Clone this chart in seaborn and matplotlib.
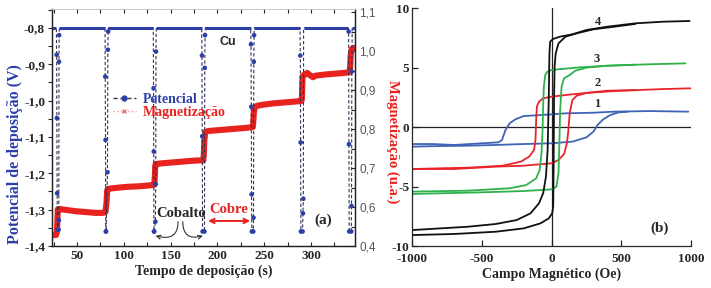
import numpy as np
import pandas as pd
import matplotlib
matplotlib.use('Agg')
import matplotlib.pyplot as plt
import seaborn as sns
from matplotlib.lines import Line2D
from matplotlib.ticker import MultipleLocator, FixedLocator, FuncFormatter

# ---- dados (a): potencial e magnetizacao vs tempo ----
pot_t = [23.0, 28.0, 28.3, 28.5, 28.8, 29.2, 30.4, 30.6, 30.8, 31.0, 31.2,
         80.0, 80.2, 80.5, 80.8, 81.1, 82.6, 83.0, 83.3, 83.6,
         131.5, 131.8, 132.0, 132.2, 132.5, 133.8, 134.1, 134.4, 134.7,
         183.2, 183.5, 183.8, 184.2, 186.2, 186.5, 186.8, 187.1,
         235.6, 235.9, 236.2, 236.5, 236.8, 238.3, 238.6, 238.9, 239.2, 239.5,
         288.3, 288.6, 288.9, 289.2, 291.0, 291.4, 291.8, 292.1,
         339.9, 340.2, 340.5, 340.8, 343.0, 343.3, 343.6, 344.0, 347.0]
pot_v = [-0.80, -0.80, -0.874, -1.048, -1.255, -1.355, -1.355, -1.329, -0.893, -0.82, -0.80,
         -0.80, -0.934, -1.108, -1.36, -1.36, -1.197, -0.86, -0.81, -0.80,
         -0.80, -0.966, -1.14, -1.36, -1.36, -1.333, -1.23, -0.865, -0.80,
         -0.80, -0.876, -1.098, -1.36, -1.36, -0.91, -0.82, -0.80,
         -0.80, -0.845, -1.017, -1.258, -1.36, -1.36, -1.322, -0.893, -0.82, -0.80,
         -0.80, -0.876, -1.115, -1.36, -1.36, -1.31, -1.27, -0.80,
         -0.80, -0.81, -1.12, -1.36, -1.36, -1.29, -0.92, -0.80, -0.80]

mag_t = [24.5, 27.5, 28.5, 29.0, 29.5,
         31, 40, 50, 60, 70, 78, 80.5,
         81.5, 82.2, 82.6, 84, 95, 105, 115, 125, 132.5,
         133.2, 133.6, 134, 136, 145, 155, 165, 175, 185,
         185.6, 186, 187, 190, 200, 210, 220, 230, 237.8,
         238.4, 239, 240, 243, 250, 260, 270, 280, 289.5,
         290.2, 290.6, 291, 293, 296, 299, 302, 305, 315, 325, 335, 341.2,
         341.8, 342.4, 343.5, 345, 347]
mag_v = [0.528, 0.528, 0.535, 0.56, 0.594,
         0.595, 0.592, 0.589, 0.587, 0.585, 0.585, 0.588,
         0.61, 0.64, 0.645, 0.647, 0.650, 0.652, 0.653, 0.655, 0.657,
         0.68, 0.705, 0.71, 0.711, 0.713, 0.715, 0.717, 0.719, 0.72,
         0.74, 0.77, 0.792, 0.795, 0.797, 0.799, 0.801, 0.803, 0.805,
         0.82, 0.845, 0.857, 0.86, 0.863, 0.866, 0.868, 0.87, 0.872,
         0.875, 0.91, 0.935, 0.94, 0.944, 0.938, 0.933, 0.937, 0.940, 0.942, 0.944, 0.946,
         0.96, 0.99, 1.005, 1.008, 1.008]

# ---- dados (b): laços de histerese (ramo descendente / ascendente) ----
c1_dx = [980, 700, 450, 300, 100, 0, -200, -260, -300, -330, -355, -380, -500, -700, -850, -1000]
c1_dy = [1.29, 1.34, 1.29, 1.2, 1.15, 1.06, 0.92, 0.64, 0.31, -0.25, -1.09, -1.29, -1.37, -1.51, -1.43, -1.43]
c1_ax = [-1000, -800, -600, -400, -200, 0, 150, 250, 300, 330, 370, 420, 480, 550]
c1_ay = [-1.65, -1.6, -1.57, -1.51, -1.43, -1.37, -1.23, -0.87, -0.39, 0.17, 0.64, 1.0, 1.23, 1.29]

c2_dx = [1000, 800, 500, 300, 150, 0, -60, -90, -105, -110, -115, -125, -160, -220, -350, -600, -800, -1000]
c2_dy = [3.25, 3.19, 3.05, 2.91, 2.75, 2.55, 2.41, 2.13, 1.71, 0.59, -1.09, -1.93, -2.49, -2.91, -3.25, -3.42, -3.47, -3.53]
c2_ax = [-1000, -700, -400, -200, 0, 50, 90, 110, 120, 130, 150, 180, 250, 400, 600]
c2_ay = [-3.53, -3.53, -3.33, -3.25, -3.05, -2.77, -2.27, -1.37, -0.39, 1.15, 2.27, 2.63, 2.86, 3.05, 3.1]

c3_dx = [960, 700, 400, 200, 50, 0, -30, -45, -55, -60, -65, -72, -85, -110, -180, -300, -600, -1000]
c3_dy = [5.35, 5.27, 5.15, 5.01, 4.85, 4.79, 4.65, 4.37, 3.39, 1.71, -0.53, -2.21, -3.61, -4.31, -4.87, -5.15, -5.35, -5.43]
c3_ax = [-1000, -800, -500, -200, 0, 35, 50, 55, 62, 72, 90, 130, 170, 250, 400, 600]
c3_ay = [-5.63, -5.57, -5.49, -5.38, -5.24, -5.01, -3.89, -1.93, 1.43, 3.39, 4.09, 4.37, 4.73, 4.99, 5.15, 5.24]

c4_dx = [990, 800, 600, 400, 250, 150, 60, 10, -10, -15, -20, -28, -40, -60, -90, -150, -250, -400, -600, -800, -1000]
c4_dy = [8.91, 8.85, 8.71, 8.43, 8.15, 7.79, 7.59, 7.39, 7.17, 6.19, 2.27, -1.93, -4.17, -5.57, -6.41, -7.25, -7.82, -8.15, -8.38, -8.52, -8.66]
c4_ax = [-1000, -700, -400, -200, -80, -20, 5, 12, 15, 18, 22, 30, 50, 100, 180, 300, 450, 600]
c4_ay = [-9.08, -8.99, -8.8, -8.52, -8.1, -7.68, -7.25, -6.69, -3.33, 2.27, 5.07, 6.19, 7.03, 7.59, 7.87, 8.21, 8.43, 8.66]

curve_labels = ['1', '2', '3', '4']
curve_colors = ['#3f63b5', '#e8242a', '#2fb24c', '#111111']

sns.set_theme(style='ticks')
plt.rcParams['font.family'] = ['Liberation Serif', 'DejaVu Serif']
plt.rcParams['axes.unicode_minus'] = False

BLUE = '#2c3ea8'
RED = '#e8221f'

fig = plt.figure(figsize=(7.11, 2.88), dpi=100)
ax = fig.add_axes([0.0731, 0.1458, 0.4262, 0.8229])
ax2 = ax.twinx()
bx = fig.add_axes([0.5795, 0.1458, 0.3924, 0.8264])

# ---- painel (a) ----
pot = pd.DataFrame({'t': pot_t, 'v': pot_v})
pot['plato'] = np.where(pot['v'] == -0.80, pot['v'], np.nan)
sns.lineplot(data=pot, x='t', y='v', sort=False, estimator=None, ax=ax,
             color='#333355', lw=0.8, linestyle=(0, (3, 2)))
ax.plot(pot['t'], pot['plato'], color=BLUE, lw=2.2, solid_capstyle='butt')
sns.scatterplot(data=pot[pot['v'] != -0.80], x='t', y='v', ax=ax, color=BLUE,
                s=11, edgecolor='none', zorder=3)

mag = pd.DataFrame({'t': mag_t, 'm': mag_v})
sns.lineplot(data=mag, x='t', y='m', sort=False, estimator=None, ax=ax2,
             color=RED, lw=4.4, solid_capstyle='butt')

ax.set_xlim(23.3, 347)
ax.set_ylim(-1.4, -0.748)
ax2.set_ylim(0.5, 1.108)

comma = FuncFormatter(lambda v, p: f'{v:.1f}'.replace('.', ','))
ax.yaxis.set_major_locator(FixedLocator([-1.4, -1.3, -1.2, -1.1, -1.0, -0.9, -0.8]))
ax.yaxis.set_major_formatter(comma)
ax.yaxis.set_minor_locator(MultipleLocator(0.05))
ax.xaxis.set_major_locator(FixedLocator([50, 100, 150, 200, 250, 300]))
ax.xaxis.set_minor_locator(MultipleLocator(25))
ax2.yaxis.set_major_locator(FixedLocator([0.5, 0.6, 0.7, 0.8, 0.9, 1.0, 1.1]))
ax2.set_yticklabels(['0,4', '0,6', '0,7', '0,8', '0,9', '1,0', '1,1'])
ax2.yaxis.set_minor_locator(MultipleLocator(0.05))

for lab in ax.get_xticklabels() + ax.get_yticklabels():
    lab.set_fontweight('bold')
    lab.set_fontsize(9.5)
for lab in ax2.get_yticklabels():
    lab.set_family(['Liberation Sans', 'DejaVu Sans'])
    lab.set_fontsize(8.5)
    lab.set_color('#555555')

ax.tick_params(axis='y', which='both', direction='out', length=3, width=0.8, pad=2)
ax.tick_params(axis='x', which='both', direction='in', length=3, width=0.8, top=True, pad=3)
ax2.tick_params(axis='y', which='both', direction='in', length=3, width=0.8, pad=3)
for a in (ax, ax2):
    for name in ['left', 'right', 'bottom']:
        a.spines[name].set_linewidth(0.9)
        a.spines[name].set_color('#222222')
    a.spines['top'].set_color('#c8c8c8')
    a.spines['top'].set_linewidth(0.7)

ax.set_xlabel('Tempo de deposição (s)', fontsize=10, fontweight='bold', labelpad=2)
ax.set_ylabel('Potencial de deposição (V)', fontsize=11.5, fontweight='bold', color=BLUE,
              va='center')
ax.yaxis.set_label_coords(-0.122, 0.39)
ax2.set_ylabel('Magnetização (u.a.)', fontsize=10.5, fontweight='bold', color=RED,
               rotation=270, va='center')
ax2.yaxis.set_label_coords(1.125, 0.44)

ax.text(211, -0.84, 'Cu', fontsize=9, fontweight='bold', ha='center', va='center',
        family=['Liberation Sans', 'DejaVu Sans'])
ax.text(161, -1.31, 'Cobalto', fontsize=10.5, fontweight='bold', ha='center', va='center')
ax.text(212, -1.30, 'Cobre', fontsize=10.5, fontweight='bold', color=RED, ha='center', va='center')
ax.text(313, -1.33, '(a)', fontsize=11, fontweight='bold', ha='center', va='center')
ax.annotate('', xy=(190, -1.331), xytext=(235, -1.331),
            arrowprops=dict(arrowstyle='<->', color=RED, lw=1.4, mutation_scale=8,
                            shrinkA=0, shrinkB=0))
ax.annotate('', xy=(134, -1.372), xytext=(158, -1.333),
            arrowprops=dict(arrowstyle='->', color='#333333', lw=0.8, mutation_scale=7,
                            connectionstyle='angle3,angleA=90,angleB=-15', shrinkA=0, shrinkB=0))
ax.annotate('', xy=(184.5, -1.372), xytext=(163, -1.333),
            arrowprops=dict(arrowstyle='->', color='#333333', lw=0.8, mutation_scale=7,
                            connectionstyle='angle3,angleA=90,angleB=15', shrinkA=0, shrinkB=0))

handles = [Line2D([], [], color='#333355', lw=1, linestyle=(0, (3, 2)), marker='o',
                  markersize=3.5, markerfacecolor=BLUE, markeredgecolor=BLUE),
           Line2D([], [], color='#f09a9a', lw=1, linestyle=':', marker='x',
                  markersize=3.5, markeredgecolor='#f07070')]
leg = ax.legend(handles, ['Potencial', 'Magnetização'], loc='upper left',
                bbox_to_anchor=(0.2, 0.645), frameon=False, handlelength=1.7,
                handletextpad=0.45, labelspacing=0.0, borderpad=0, borderaxespad=0,
                prop={'weight': 'bold', 'size': 10})
for txt, col in zip(leg.get_texts(), [BLUE, RED]):
    txt.set_color(col)

ax.set_zorder(ax2.get_zorder() + 1)
ax.patch.set_visible(False)

# ---- painel (b) ----
branches = [(c1_dx, c1_dy, c1_ax, c1_ay), (c2_dx, c2_dy, c2_ax, c2_ay),
            (c3_dx, c3_dy, c3_ax, c3_ay), (c4_dx, c4_dy, c4_ax, c4_ay)]
bx.axhline(0, color='#222222', lw=0.9, zorder=1)
bx.axvline(0, color='#222222', lw=0.9, zorder=1)
for (dx, dy, axx, ayy), col in zip(branches, curve_colors):
    sns.lineplot(x=dx, y=dy, sort=False, estimator=None, ax=bx, color=col, lw=1.3)
    sns.lineplot(x=axx, y=ayy, sort=False, estimator=None, ax=bx, color=col, lw=1.3)

for lab, (xx, yy) in zip(curve_labels, [(330, 1.9), (330, 3.7), (320, 5.7), (330, 8.8)]):
    bx.text(xx, yy, lab, fontsize=9, fontweight='bold', ha='center', va='center')
bx.text(778, -8.5, '(b)', fontsize=11, fontweight='bold', ha='center', va='center')

bx.set_xlim(-1000, 1000)
bx.set_ylim(-10, 10)
bx.xaxis.set_major_locator(FixedLocator([-1000, -500, 0, 500, 1000]))
bx.yaxis.set_major_locator(FixedLocator([-10, -5, 0, 5, 10]))
for lab in bx.get_xticklabels() + bx.get_yticklabels():
    lab.set_fontweight('bold')
    lab.set_fontsize(9.5)
bx.tick_params(axis='y', direction='in', length=4, width=0.9, pad=2)
bx.tick_params(axis='x', direction='in', length=4, width=0.9, pad=5)
bx.spines['top'].set_visible(False)
bx.spines['right'].set_visible(False)
bx.spines['left'].set_linewidth(0.9)
bx.spines['bottom'].set_linewidth(0.9)
bx.set_xlabel('Campo Magnético (Oe)', fontsize=10, fontweight='bold', labelpad=2)
bx.set_ylabel('')

fig.savefig('out.png', dpi=100)
